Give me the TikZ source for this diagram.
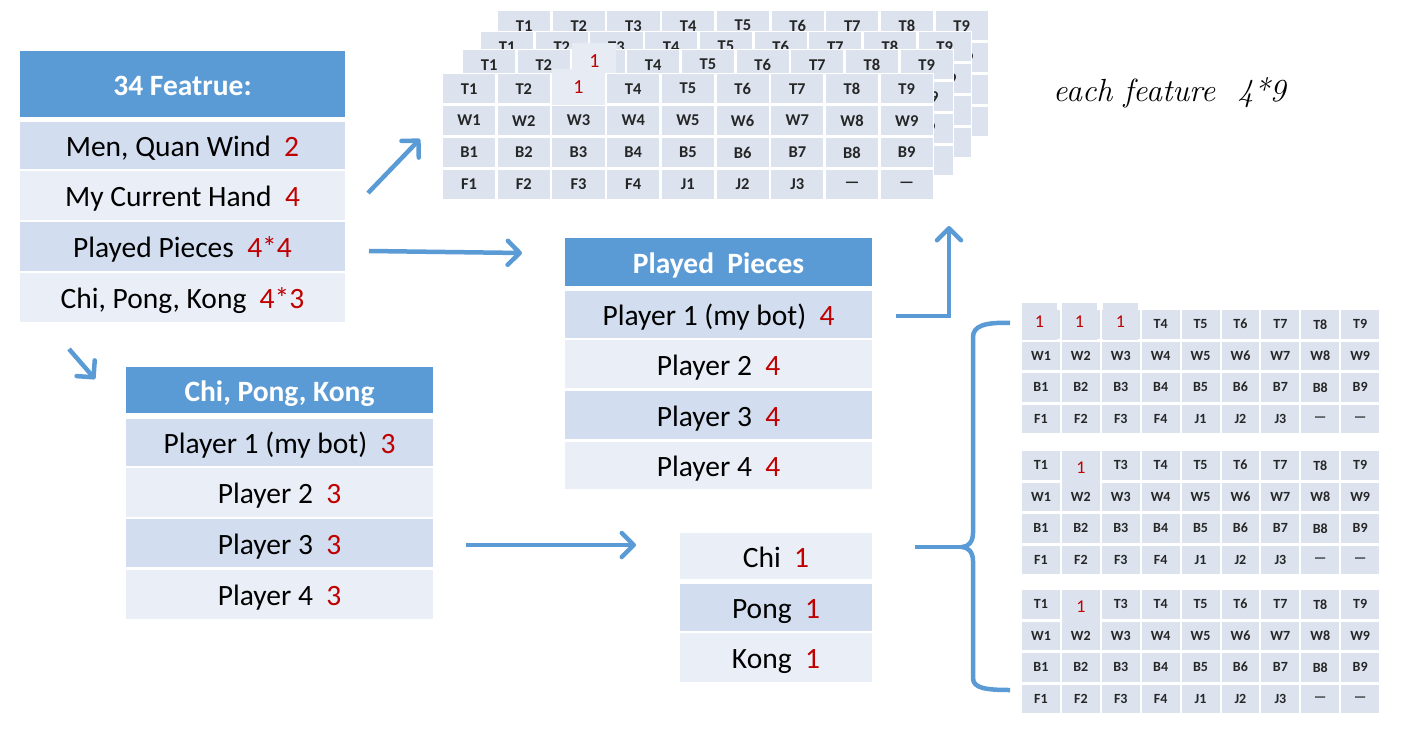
\documentclass[tikz,border=0pt]{standalone}
\usepackage{fontspec}
\newfontfamily\calib{Carlito}
\usetikzlibrary{arrows.meta}
\definecolor{hdrblue}{HTML}{5B9BD5}
\definecolor{banddark}{HTML}{D2DEEF}
\definecolor{bandlight}{HTML}{EAEFF7}
\definecolor{tilefill}{HTML}{DCE3EF}
\definecolor{tileone}{HTML}{E6EBF4}
\definecolor{numred}{HTML}{C00000}
\definecolor{tiletext}{HTML}{262626}
\newcommand{\rn}[1]{\textcolor{numred}{#1}}
\def\gpx{54.7}\def\gpy{31.9}\def\gcw{52.2pt}\def\gch{29.4pt}\def\gfs{16.5}\def\ggap{2.5}
% #1 name, #2 x, #3 y, #4 = 1 for a fully visible grid, 0 for a layer mostly hidden behind others,
% #5 list of top-row columns whose label is replaced by a red 1 (or -1 for none)
\newcommand{\tilegrid}[5]{%
  \fill[white] ({#2-1.5},{#3-1.5}) rectangle ({#2+9*\gpx-\ggap+1.5},{#3+4*\gpy-\ggap+1.5});
  \foreach \lab [count=\c from 0] in {T1,T2,T3,T4,T5,T6,T7,T8,T9}
    {\gdef\shown{\lab}\foreach \bl in {#5}{\ifnum\bl=\c\relax\gdef\shown{}\fi}%
     \node[tilecell] (#1-t\c) at ({#2+\c*\gpx},{#3}) {\shown};}
  \foreach \lab [count=\c from 0] in {W1,W2,W3,W4,W5,W6,W7,W8,W9}
    {\node[tilecell] (#1-w\c) at ({#2+\c*\gpx},{#3+\gpy}) {\ifnum\c=8 \lab\else\ifnum#4=1 \lab\fi\fi};}
  \foreach \lab [count=\c from 0] in {B1,B2,B3,B4,B5,B6,B7,B8,B9}
    {\node[tilecell] (#1-b\c) at ({#2+\c*\gpx},{#3+2*\gpy}) {\ifnum\c=8 \lab\else\ifnum#4=1 \lab\fi\fi};}
  \foreach \lab [count=\c from 0] in {F1,F2,F3,F4,J1,J2,J3,—,—}
    {\node[tilecell] (#1-f\c) at ({#2+\c*\gpx},{#3+3*\gpy}) {\ifnum\c=8 \lab\else\ifnum#4=1 \lab\fi\fi};}
}
\begin{document}
\begin{tikzpicture}[x=1pt,y=-1pt,
  tbcell/.style={anchor=north west, inner sep=0pt, outer sep=0pt, text=black,
    text height=22pt, text depth=0pt,
    font=\calib\fontsize{29.5}{29.5}\selectfont},
  tbhead/.style={tbcell, fill=hdrblue, text=white,
    font=\calib\bfseries\fontsize{29.5}{29.5}\selectfont},
  tbdark/.style={tbcell, fill=banddark},
  tblight/.style={tbcell, fill=bandlight},
  tilecell/.style={anchor=north west, inner sep=0pt, outer sep=0pt, fill=tilefill,
    minimum width=\gcw, minimum height=\gch, text=tiletext,
    font=\calib\bfseries\fontsize{\gfs}{\gfs}\selectfont},
  onecell/.style={anchor=north west, inner sep=0pt, outer sep=0pt, text=numred},
  flow/.style={draw=hdrblue, line width=4.5pt, line cap=butt, line join=miter,
    -{Straight Barb[length=12pt,width=24pt,round]}},
  bracestyle/.style={draw=hdrblue, line width=4.5pt, line cap=butt, line join=round},
]
\useasboundingbox (0,0) rectangle (1404,728);

% ---------- 34 feature table ----------
\node[tbhead, minimum width=325pt, minimum height=66pt] (feat) at (20,51) {34 Featrue:};
\node[tbdark, minimum width=325pt, minimum height=47pt] (featA) at (20,122) {Men, Quan Wind\ \ \rn{2}};
\node[tblight, minimum width=325pt, minimum height=49pt] (featB) at (20,171) {My Current Hand\ \ \rn{4}};
\node[tbdark, minimum width=325pt, minimum height=49pt] (featC) at (20,222) {Played Pieces\ \ \rn{4*4}};
\node[tblight, minimum width=325pt, minimum height=49pt] (featD) at (20,273) {Chi, Pong, Kong\ \ \rn{4*3}};

% ---------- Chi Pong Kong table ----------
\node[tbhead, minimum width=307pt, minimum height=46pt] (cpk) at (126,367) {Chi, Pong, Kong};
\node[tbdark, minimum width=307pt, minimum height=47pt] (cpkA) at (126,419) {Player 1 (my bot)\ \ \rn{3}};
\node[tblight, minimum width=307pt, minimum height=49pt] (cpkB) at (126,468) {Player 2\ \ \rn{3}};
\node[tbdark, minimum width=307pt, minimum height=48pt] (cpkC) at (126,519) {Player 3\ \ \rn{3}};
\node[tblight, minimum width=307pt, minimum height=49pt] (cpkD) at (126,570) {Player 4\ \ \rn{3}};

% ---------- Played pieces table ----------
\node[tbhead, minimum width=307pt, minimum height=48pt] (pp) at (565,238) {Played\ \ Pieces};
\node[tbdark, minimum width=307pt, minimum height=47pt] (ppA) at (565,291) {Player 1 (my bot)\ \ \rn{4}};
\node[tblight, minimum width=307pt, minimum height=48pt] (ppB) at (565,340) {Player 2\ \ \rn{4}};
\node[tbdark, minimum width=307pt, minimum height=48pt] (ppC) at (565,391) {Player 3\ \ \rn{4}};
\node[tblight, minimum width=307pt, minimum height=47pt] (ppD) at (565,442) {Player 4\ \ \rn{4}};

% ---------- Chi / Pong / Kong small ----------
\node[tblight, minimum width=192pt, minimum height=46pt] (sChi) at (680,533) {Chi\ \ \rn{1}};
\node[tbdark, minimum width=192pt, minimum height=47pt] (sPong) at (680,584) {Pong\ \ \rn{1}};
\node[tblight, minimum width=192pt, minimum height=49pt] (sKong) at (680,633) {Kong\ \ \rn{1}};

% ---------- stacked grids (top) ----------
\tilegrid{layD}{498}{11}{0}{-1}
\tilegrid{layC}{481}{32}{0}{-1}
\tilegrid{layB}{463}{50}{0}{2}
\node[onecell, fill=tileone, minimum width=44pt, minimum height=36pt,
  font=\calib\fontsize{20}{20}\selectfont] (layBone) at (572.4,43) {1};
\tilegrid{layA}{443}{74}{1}{2}
\node[onecell, fill=tileone, minimum width=52.2pt, minimum height=36pt,
  font=\calib\fontsize{20}{20}\selectfont] (layAone) at (552.4,69) {1};

\node[anchor=base west, inner sep=0pt, font=\itshape\fontsize{32}{32}\selectfont]
  (note) at (1053,101) {each feature\ \ 4*9};

% ---------- right grids ----------
\def\gpx{39.9}\def\gpy{31.5}\def\gcw{37.9pt}\def\gch{28.5pt}\def\gfs{14}\def\ggap{2}
\tilegrid{rgA}{1022}{310}{1}{0,1,2}
\node[onecell, fill=tilefill, minimum width=35pt, minimum height=37pt,
  font=\calib\fontsize{18}{18}\selectfont] (rgAone1) at (1022,303) {1};
\node[onecell, fill=tilefill, minimum width=35pt, minimum height=37pt,
  font=\calib\fontsize{18}{18}\selectfont] (rgAone2) at (1062,303) {1};
\node[onecell, fill=tilefill, minimum width=35pt, minimum height=37pt,
  font=\calib\fontsize{18}{18}\selectfont] (rgAone3) at (1103,303) {1};
\tilegrid{rgB}{1022}{451}{1}{1}
\node[onecell, fill=tilefill, minimum width=37.9pt, minimum height=33pt,
  font=\calib\fontsize{18}{18}\selectfont] (rgBone) at (1061.9,451) {1};
\tilegrid{rgC}{1022}{590}{1}{1}
\node[onecell, fill=tilefill, minimum width=37.9pt, minimum height=33pt,
  font=\calib\fontsize{18}{18}\selectfont] (rgCone) at (1061.9,590) {1};

% ---------- arrows ----------
\coordinate (a1s) at (368,193); \coordinate (a1e) at (420,139);
\coordinate (a2s) at (369,251); \coordinate (a2e) at (522,253);
\coordinate (a3s) at (69,349);  \coordinate (a3e) at (95,379);
\coordinate (a4s) at (466,545); \coordinate (a4e) at (636,545);
\coordinate (a5s) at (896,316); \coordinate (a5e) at (949,226);
\draw[flow] (a1s) -- (a1e);
\draw[flow] (a2s) -- (a2e);
\draw[flow] (a3s) -- (a3e);
\draw[flow] (a4s) -- (a4e);
\draw[flow] (a5s) -| (a5e);

% ---------- brace ----------
\coordinate (brin) at (915,547);
\coordinate (brtip) at (962,547);
\coordinate (brtop) at (1010,323);
\coordinate (brbot) at (1010,690);
\draw[bracestyle] (brin) -- (brtip);
\draw[bracestyle] (brtop) .. controls (985,322) and (973,326) .. (973,337)
  -- (973,533) .. controls (973,542) and (968,547) .. (brtip)
  .. controls (968,547) and (973,552) .. (973,561)
  -- (973,678) .. controls (973,688) and (985,690) .. (brbot);
\end{tikzpicture}
\end{document}
